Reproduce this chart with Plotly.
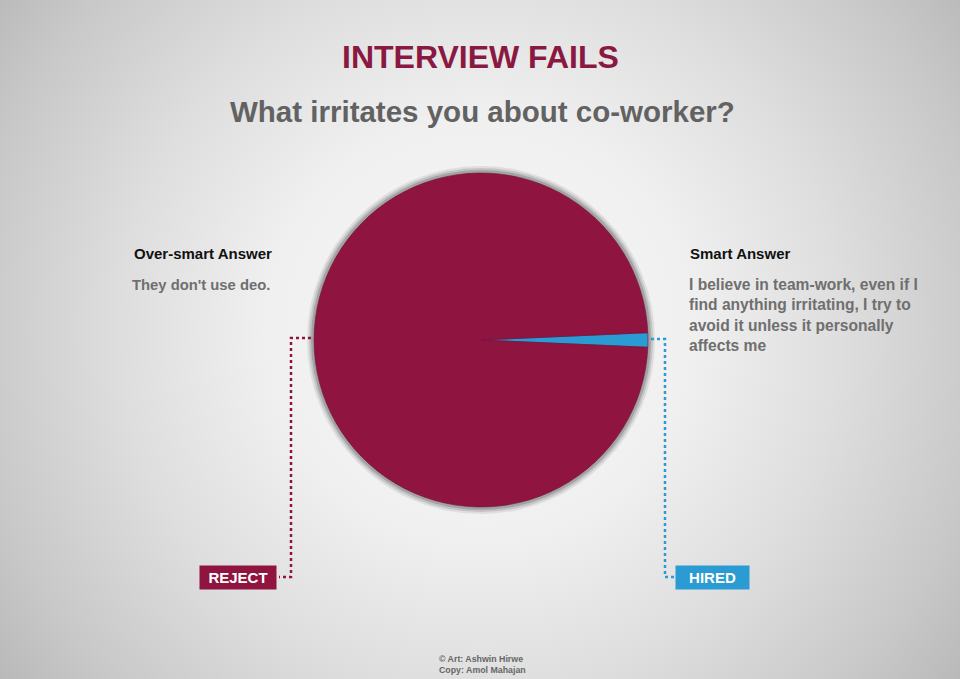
import base64
import plotly.graph_objects as go

# ---- data ----
answers = ["Over-smart Answer", "Smart Answer"]
shares = [98.6, 1.4]
outcomes = ["REJECT", "HIRED"]
answer_texts = [
    "They don't use deo.",
    "I believe in team-work, even if I<br>find anything irritating, I try to<br>avoid it unless it personally<br>affects me",
]
title_text = "INTERVIEW FAILS"
subtitle_text = "What irritates you about co-worker?"
credit_text = "© Art: Ashwin Hirwe<br>Copy: Amol Mahajan"

W, H = 960, 679
MAROON = "#8f1540"
BLUE = "#2a9bd3"
FONT = "Liberation Sans, Arial, sans-serif"

def px(x):
    return x / W

def py(y):
    return 1 - y / H

# radial gradient background as SVG
svg = f'''<svg xmlns="http://www.w3.org/2000/svg" width="{W}" height="{H}" preserveAspectRatio="none">
<defs><radialGradient id="g" cx="480" cy="330" r="600" gradientUnits="userSpaceOnUse">
<stop offset="0" stop-color="#f7f7f7"/><stop offset="0.35" stop-color="#f0f0f0"/>
<stop offset="0.6" stop-color="#dedede"/><stop offset="0.85" stop-color="#c8c8c8"/>
<stop offset="1" stop-color="#b8b8b8"/></radialGradient></defs>
<rect width="{W}" height="{H}" fill="url(#g)"/></svg>'''
bg_uri = "data:image/svg+xml;base64," + base64.b64encode(svg.encode()).decode()

cx, cy, r = 481, 340, 167

fig = go.Figure()
fig.add_trace(go.Pie(
    labels=answers[::-1],
    values=shares[::-1],
    sort=False,
    direction="counterclockwise",
    rotation=90 - shares[1] * 360 / 200,
    marker=dict(colors=[BLUE, MAROON], line=dict(color="#6e1040", width=0.6)),
    textinfo="none",
    hoverinfo="skip",
    showlegend=False,
    domain=dict(x=[px(cx - r), px(cx + r)], y=[py(cy + r), py(cy - r)]),
))

shapes = []
# soft grey shadow ring around the pie
for dr, col, op in [(7, "#b4b4b4", 0.3), (5, "#a4a4a4", 0.45), (3, "#929292", 0.65)]:
    shapes.append(dict(type="circle", xref="paper", yref="paper", layer="below",
                       x0=px(cx - r - dr), x1=px(cx + r + dr),
                       y0=py(cy + r + dr), y1=py(cy - r - dr),
                       fillcolor=col, opacity=op, line=dict(width=0)))
# dotted connectors
shapes.append(dict(type="path", xref="paper", yref="paper",
                   path=f"M {px(311)} {py(338)} L {px(291)} {py(338)} L {px(291)} {py(577)} L {px(279)} {py(577)}",
                   line=dict(color=MAROON, width=2.5, dash="dot")))
shapes.append(dict(type="path", xref="paper", yref="paper",
                   path=f"M {px(651)} {py(339)} L {px(665)} {py(339)} L {px(665)} {py(577)} L {px(676)} {py(577)}",
                   line=dict(color=BLUE, width=2.5, dash="dot")))

ann = []
ann.append(dict(text=title_text, x=px(480), y=py(57), xref="paper", yref="paper",
                showarrow=False, xanchor="center", yanchor="middle",
                font=dict(family=FONT, size=32, color="#8a1942", weight="bold")))
ann.append(dict(text=subtitle_text, x=px(482), y=py(112), xref="paper", yref="paper",
                showarrow=False, xanchor="center", yanchor="middle",
                font=dict(family=FONT, size=29.5, color="#626262", weight="bold")))
ann.append(dict(text=answers[0], x=px(132), y=py(253), xref="paper", yref="paper",
                showarrow=False, xanchor="left", yanchor="middle",
                font=dict(family=FONT, size=15, color="#111111", weight="bold")))
ann.append(dict(text=answers[1], x=px(688), y=py(253), xref="paper", yref="paper",
                showarrow=False, xanchor="left", yanchor="middle",
                font=dict(family=FONT, size=15, color="#111111", weight="bold")))
ann.append(dict(text=answer_texts[0], x=px(130), y=py(275), xref="paper", yref="paper",
                showarrow=False, xanchor="left", yanchor="top", align="left",
                font=dict(family=FONT, size=14.8, color="#6f6f6f", weight="bold")))
ann.append(dict(text=answer_texts[1], x=px(687), y=py(274), xref="paper", yref="paper",
                showarrow=False, xanchor="left", yanchor="top", align="left",
                font=dict(family=FONT, size=15.6, color="#6f6f6f", weight="bold")))
ann.append(dict(text=outcomes[0], x=px(238), y=py(577), xref="paper", yref="paper",
                showarrow=False, xanchor="center", yanchor="middle",
                width=72, height=19, bgcolor=MAROON, borderpad=2,
                font=dict(family=FONT, size=15, color="#ffffff", weight="bold")))
ann.append(dict(text=outcomes[1], x=px(712), y=py(577), xref="paper", yref="paper",
                showarrow=False, xanchor="center", yanchor="middle",
                width=69, height=19, bgcolor=BLUE, borderpad=2,
                font=dict(family=FONT, size=15, color="#ffffff", weight="bold")))
ann.append(dict(text=credit_text, x=px(437), y=py(664), xref="paper", yref="paper",
                showarrow=False, xanchor="left", yanchor="middle", align="left",
                font=dict(family=FONT, size=8.8, color="#666666", weight="bold")))

fig.update_layout(
    width=W, height=H,
    margin=dict(l=0, r=0, t=0, b=0),
    paper_bgcolor="#e6e6e6",
    plot_bgcolor="rgba(0,0,0,0)",
    images=[dict(source=bg_uri, xref="paper", yref="paper", x=0, y=1,
                 sizex=1, sizey=1, sizing="stretch", layer="below",
                 xanchor="left", yanchor="top")],
    shapes=shapes,
    annotations=ann,
    showlegend=False,
)

fig.write_html("out.html")
